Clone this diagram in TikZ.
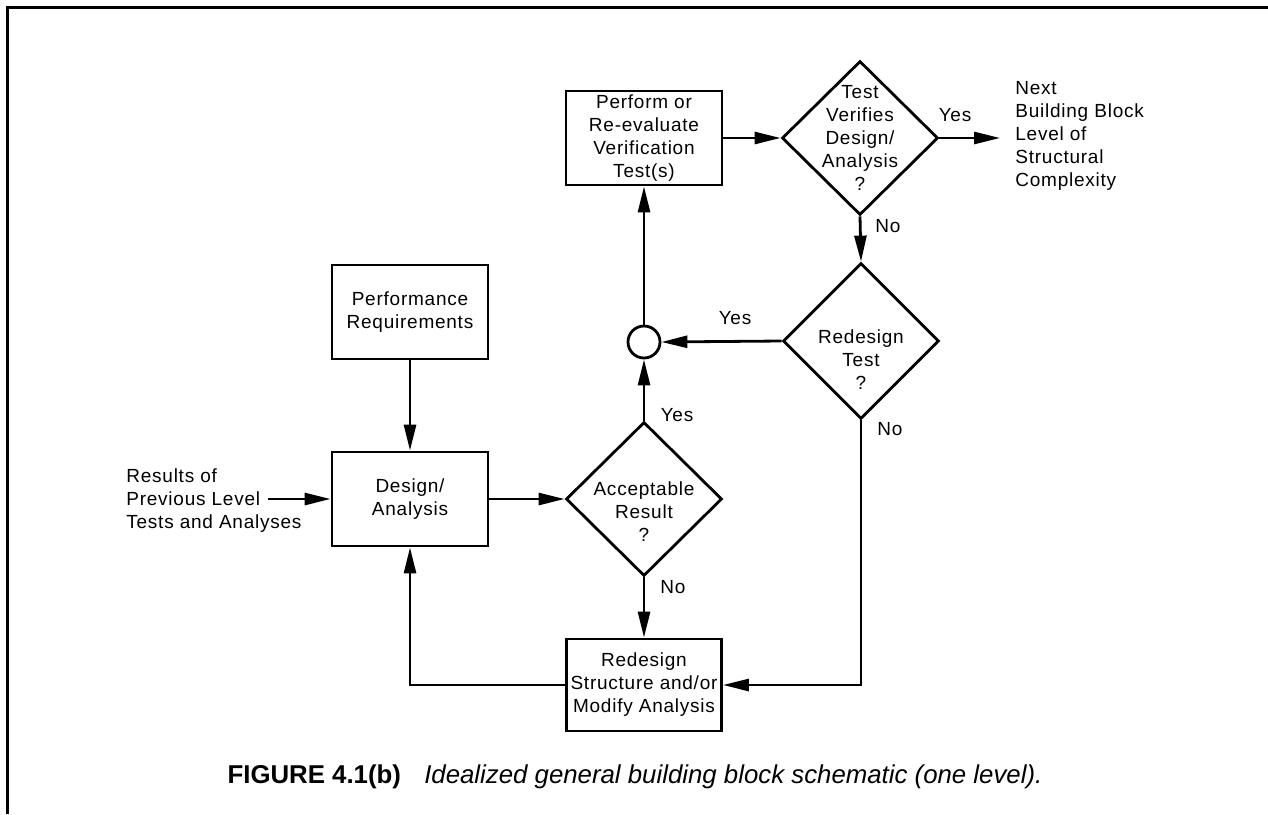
\documentclass[tikz,border=0pt]{standalone}
\usepackage{fontspec}
\setmainfont{Liberation Sans}
\newfontfamily\diagfont[LetterSpace=4]{Liberation Sans}
\usetikzlibrary{positioning, arrows.meta, shapes.geometric}

\begin{document}
\begin{tikzpicture}[
  x=0.5pt, y=-0.5pt,
  >={Triangle[length=13pt, width=6pt]},
  font=\diagfont\fontsize{9.5}{11.5}\selectfont,
  line width=1.4pt,
  box/.style={draw, minimum width=78pt, minimum height=47pt, align=center, inner sep=1pt},
  decision/.style={draw, diamond, minimum width=78pt, minimum height=77pt, inner sep=0pt},
  dtext/.style={align=center, inner sep=0pt},
  ann/.style={align=left, inner sep=0pt},
  lbl/.style={inner sep=0pt},
  arr/.style={->}
]
\useasboundingbox (0,0) rectangle (1268,814);
\draw[line width=1.5pt] (1268,7) -- (7,7) -- (7,814);

\node[box] (preq) at (410,312) {Performance\\Requirements};
\node[box] (des) at (410,499) {Design/\\Analysis};
\node[decision, label={[dtext, yshift=-6.5pt]center:Acceptable\\Result\\?}] (acc) at (644,499) {};
\node[draw, circle, minimum size=16pt, inner sep=0pt] (circ) at (644,342) {};
\node[box] (perf) at (644,138) {Perform or\\Re-evaluate\\Verification\\Test(s)};
\node[decision, label={[dtext]center:Test\\Verifies\\Design/\\Analysis\\?}] (tv) at (860,138) {};
\node[decision, minimum height=78pt, label={[dtext, yshift=-9.5pt]center:Redesign\\Test\\?}] (rt) at (861,341) {};
\node[box, minimum width=77.5pt, minimum height=46pt] (rs) at (644,685) {Redesign\\Structure and/or\\Modify Analysis};
\node[ann, inner xsep=7pt, anchor=west] (nxt) at (1000,136) {Next\\Building Block\\Level of\\Structural\\Complexity};
\node[ann, anchor=west] (res) at (125,501) {Results of\\Previous Level\\Tests and Analyses};
\coordinate (resend) at (268,499);

\node[lbl] (tvyes) at (955,115) {Yes};
\node[lbl] (tvno) at (888,226) {No};
\node[lbl] (rtyes) at (735,318) {Yes};
\node[lbl] (rtno) at (890,429) {No};
\node[lbl] (accyes) at (677,415) {Yes};
\node[lbl] (accno) at (673,587) {No};

\draw[arr] (resend) -- (des.west);
\draw[arr] (preq.south) -- (des.north);
\draw[arr] (des.east) -- (acc.west);
\draw[arr] (acc.north) -- (circ.south);
\draw[arr] (circ.north) -- (perf.south);
\draw[arr] (perf.east) -- (tv.west);
\draw[arr] (tv.east) -- (tv.east -| nxt.west);
\draw[arr] (tv.south) -- (rt.north);
\draw[arr] (rt.west) -- (circ.east);
\draw[arr] (rt.south) |- (rs.east);
\draw[arr] (acc.south) -- (rs.north);
\draw[arr] (rs.west) -| (des.south);

\node[font=\normalfont\fontsize{12.9}{15}\selectfont] (cap) at (635,777)
  {\textbf{FIGURE 4.1(b)}\hspace{0.9em}\textit{Idealized general building block schematic (one level).}};
\end{tikzpicture}
\end{document}
